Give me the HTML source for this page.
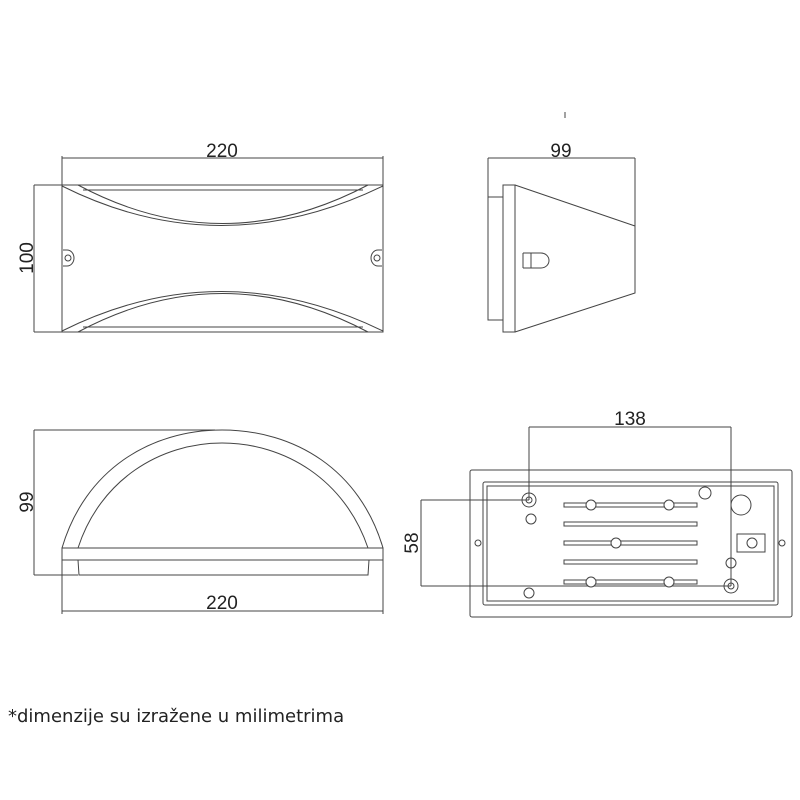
<!DOCTYPE html>
<html><head><style>body{margin:0;background:#fff}svg{display:block}</style></head><body>
<svg width="800" height="800" viewBox="0 0 800 800" xmlns="http://www.w3.org/2000/svg" font-family="Liberation Sans, sans-serif">
<g fill="none" stroke="#444" stroke-width="1">
<!-- top-left -->
<line x1="62" y1="158" x2="383" y2="158"/><line x1="62" y1="156" x2="62" y2="185"/><line x1="383" y1="156" x2="383" y2="185"/>
<line x1="34" y1="185" x2="62" y2="185"/><line x1="34" y1="332" x2="62" y2="332"/><line x1="34" y1="185" x2="34" y2="332"/>
<rect x="62" y="185" width="321" height="147"/>
<path d="M62 186 Q220 265 383 186"/><path d="M78 185 Q222 262 368 185"/><line x1="83" y1="190" x2="363" y2="190"/>
<path d="M62 331 Q220 252 383 331"/><path d="M78 332 Q222 255 368 332"/><line x1="83" y1="327" x2="363" y2="327"/>
<path d="M63 250 h4 a7 8 0 0 1 0 16 h-4"/><circle cx="68" cy="258" r="3"/>
<path d="M382 250 h-4 a7 8 0 0 0 0 16 h4"/><circle cx="377" cy="258" r="3"/>
<!-- side -->
<line x1="488" y1="158" x2="635" y2="158"/><line x1="488" y1="158" x2="488" y2="197"/><line x1="635" y1="158" x2="635" y2="226"/>
<rect x="488" y="197" width="15" height="123"/><rect x="503" y="185" width="12" height="147"/>
<path d="M515 185 L635 226 L635 293 L515 332"/>
<path d="M523 253 v15 M523 253 h8 M523 268 h8 M531 253 v15 M531 253 h10 a8 7.5 0 0 1 0 15 h-10"/>
<line x1="565" y1="112" x2="565" y2="118"/>
<!-- bottom-left -->
<line x1="34" y1="430" x2="215" y2="430"/><line x1="34" y1="430" x2="34" y2="575"/><line x1="34" y1="575" x2="78" y2="575"/>
<path d="M62 548 C85 470 150 430 222 430 C295 430 360 470 383 548"/>
<path d="M78 548 C100 480 160 443 222 443 C285 443 345 480 368 548"/>
<rect x="62" y="548" width="321" height="12"/>
<path d="M78 560 L79 575 L368 575 L369 560"/>
<line x1="62" y1="560" x2="62" y2="614"/><line x1="383" y1="560" x2="383" y2="614"/><line x1="62" y1="611" x2="383" y2="611"/>
<!-- bottom-right -->
<rect x="470" y="470" width="322" height="147" rx="2"/>
<rect x="483" y="482" width="295" height="123" rx="2"/><rect x="487" y="486" width="287" height="115"/>
<line x1="529" y1="427" x2="731" y2="427"/><line x1="529" y1="427" x2="529" y2="500"/><line x1="731" y1="427" x2="731" y2="586"/>
<line x1="421" y1="500" x2="529" y2="500"/><line x1="421" y1="586" x2="731" y2="586"/><line x1="421" y1="500" x2="421" y2="586"/>
<circle cx="529" cy="500" r="7"/><circle cx="529" cy="500" r="3"/><circle cx="531" cy="519" r="5"/><circle cx="529" cy="593" r="5"/>
<circle cx="705" cy="493" r="6"/><circle cx="741" cy="505" r="10"/>
<rect x="737" y="534" width="28" height="18"/><circle cx="752" cy="543" r="5"/>
<circle cx="731" cy="563" r="5"/><circle cx="731" cy="586" r="7"/><circle cx="731" cy="586" r="3"/>
<circle cx="478" cy="543" r="3"/><circle cx="782" cy="543" r="3"/>
<rect x="564" y="503" width="133" height="4"/><rect x="564" y="522" width="133" height="4"/><rect x="564" y="541" width="133" height="4"/><rect x="564" y="560" width="133" height="4"/><rect x="564" y="580" width="133" height="4"/>
<g fill="#fff"><circle cx="591" cy="505" r="5"/><circle cx="669" cy="505" r="5"/><circle cx="616" cy="543" r="5"/><circle cx="591" cy="582" r="5"/><circle cx="669" cy="582" r="5"/></g>
</g>
<g fill="#222" font-size="19" text-anchor="middle">
<text x="222" y="157">220</text>
<text x="561" y="157">99</text>
<text x="222" y="609">220</text>
<text x="630" y="425">138</text>
<text transform="translate(33,258) rotate(-90)">100</text>
<text transform="translate(33,502) rotate(-90)">99</text>
<text transform="translate(418,543) rotate(-90)">58</text>
<text x="8" y="722" text-anchor="start" font-size="18" font-family="DejaVu Sans, sans-serif">*dimenzije su izražene u milimetrima</text>
</g>
</svg>
</body></html>
